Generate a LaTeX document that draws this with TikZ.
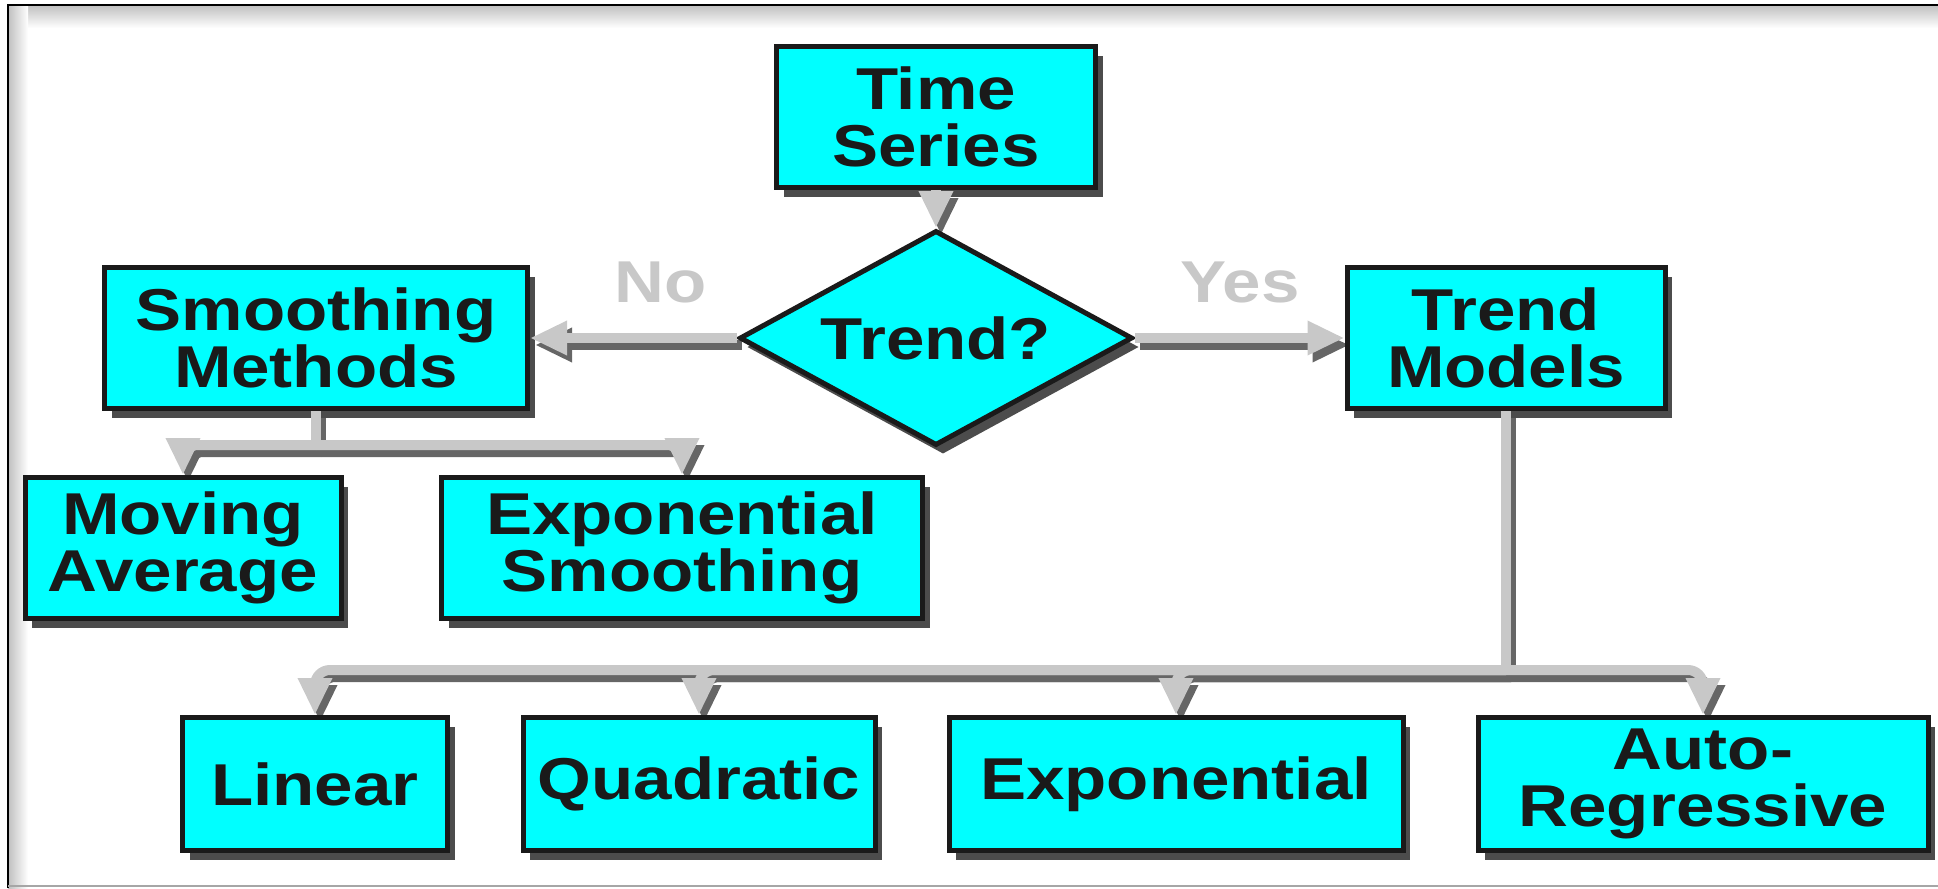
\documentclass[tikz,border=0pt]{standalone}
\usepackage{fontspec}
\setmainfont{Liberation Sans}[FakeStretch=1.17]
\usetikzlibrary{shapes.geometric,arrows.meta,shadows,calc}

\definecolor{boxcyan}{HTML}{00FFFF}
\definecolor{inkdark}{HTML}{1A1A1A}
\definecolor{linkgray}{HTML}{C8C8C8}

\pgfdeclarelayer{back}
\pgfsetlayers{back,main}

% connector with its shadow underneath
\newcommand\flowlink[2][]{%
  \begin{pgfonlayer}{back}\draw[linkshadow,#1] #2;\end{pgfonlayer}
  \draw[link,#1] #2;}

\begin{document}
\begin{tikzpicture}[x=0.1mm,y=-0.1mm]
\tikzset{
  proc/.style={rectangle,draw=inkdark,line width=0.5mm,fill=boxcyan,
    minimum height=14.1mm,inner sep=0pt,align=center,text=inkdark,
    font=\fontsize{16.8}{16.2}\selectfont\bfseries,
    drop shadow={shadow xshift=0.7mm,shadow yshift=-0.9mm,fill=black,opacity=0.7}},
  decide/.style={proc,diamond,aspect=1.83,minimum width=39.3mm,minimum height=21.5mm},
  link/.style={draw=linkgray,line width=1mm,rounded corners=1.5mm,
    -{Triangle[length=3.7mm,width=3.2mm]}},
  linkshadow/.style={link,draw=black!60,transform canvas={shift={(0.5mm,-0.7mm)}}},
  answer/.style={text=linkgray,font=\fontsize{16.8}{16.2}\selectfont\bfseries},
}
\useasboundingbox (0,0) rectangle (1938,888);

% frame
\begin{pgfonlayer}{back}
\shade[top color=black!25,bottom color=white] (8,5) rectangle (1938,28);
\shade[left color=black!25,right color=white] (8,5) rectangle (28,888);
\end{pgfonlayer}
\draw[line width=0.25mm] (8,888) -- (8,5) -- (1938,5);
\draw[black!35,line width=0.2mm] (8,886) -- (1938,886);

% boxes
\node[proc,minimum width=31.9mm] (ts) at (936,117) {Time\\Series};
\node[decide] (trend) at (936,338) {Trend?};
\node[proc,minimum width=42.3mm] (sm) at (316,338) {Smoothing\\Methods};
\node[proc,minimum width=31.8mm] (tm) at (1506,338) {Trend\\Models};
\node[proc,minimum width=31.6mm] (ma) at (183,548) {Moving\\Average};
\node[proc,minimum width=48.1mm] (es) at (682,548) {Exponential\\Smoothing};
\node[proc,minimum width=26.5mm,minimum height=13.3mm] (lin) at (315,784) {Linear};
\node[proc,minimum width=35.2mm,minimum height=13.3mm] (quad) at (699,784) {Quadratic};
\node[proc,minimum width=45.4mm,minimum height=13.3mm] (expo) at (1176,784) {Exponential};
\node[proc,minimum width=45mm,minimum height=13.3mm] (ar) at (1703,784) {Auto-\\Regressive};

% answers
\node[answer] (no) at (661,282) {No};
\node[answer] (yes) at (1240,282) {Yes};

% connectors
\coordinate (smbus) at ([yshift=-3.4mm]sm.south);
\coordinate (tmbus) at ([yshift=-25.9mm]tm.south);
\flowlink{(ts.south) -- (trend.north)}
\flowlink{(trend.west) -- (sm.east)}
\flowlink{(trend.east) -- (tm.west)}
\flowlink[-]{(sm.south) -- (smbus)}
\flowlink{(smbus) -| (ma.north)}
\flowlink{(smbus) -| (es.north)}
\flowlink[-]{(tm.south) -- (tmbus)}
\foreach \leaf in {lin,quad,expo,ar}{
  \flowlink{(tmbus) -| (\leaf.north)}
}
\end{tikzpicture}
\end{document}
